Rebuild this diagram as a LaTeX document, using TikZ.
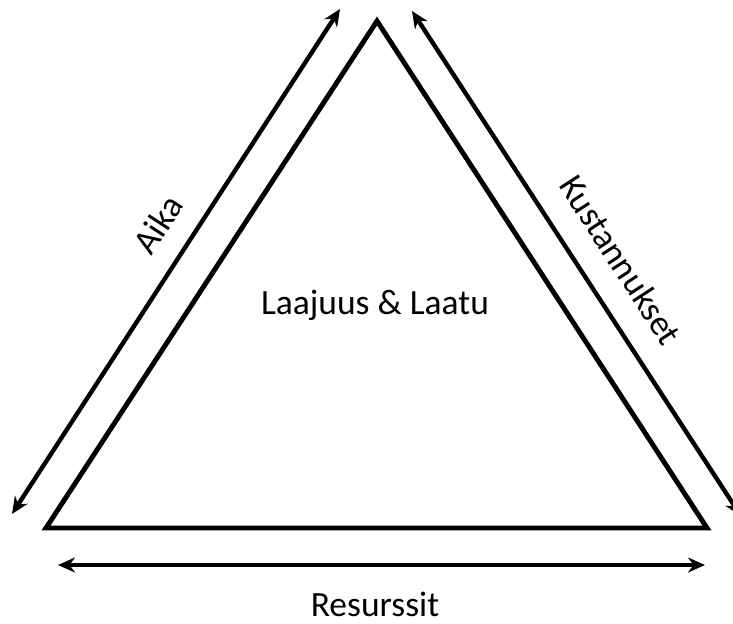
\documentclass[tikz,border=0pt]{standalone}
\usepackage{fontspec}
\setmainfont{Carlito}
\usetikzlibrary{calc,positioning,arrows.meta}

\tikzset{
  side/.style={line width=2.8pt, line join=miter},
  dimarrow/.style={line width=2.5pt, {Stealth[length=0.34cm,width=0.3cm]}-{Stealth[length=0.34cm,width=0.3cm]}},
  sidelabel/.style={font=\fontsize{20.2}{24}\selectfont, inner sep=0pt}
}

\begin{document}
\begin{tikzpicture}[x=0.02cm, y=-0.02cm]
  \useasboundingbox (0,0) rectangle (733,624);
  \clip (0,0) rectangle (733,624);

  % triangle corners
  \coordinate (apex) at (377,21);
  \coordinate (bl) at (46,528);
  \coordinate (br) at (707,528);
  \draw[side] (apex) -- (bl) -- (br) -- cycle;

  % arrow ends
  \coordinate (aika1) at (12,514);
  \coordinate (aika2) at (340,9);
  \coordinate (kust1) at (412,11);
  \coordinate (kust2) at (741,516);
  \coordinate (res1) at (58,565);
  \coordinate (res2) at (705,565);
  \draw[dimarrow] (aika1) -- (aika2);
  \draw[dimarrow] (kust1) -- (kust2);
  \draw[dimarrow] (res1) -- (res2);

  \node[sidelabel, rotate=57] (aika) at (158,224) {Aika};
  \node[sidelabel, rotate=-57] (kust) at (621,260) {Kustannukset};
  \node[sidelabel, anchor=base] (scope) at (375,315) {Laajuus \& Laatu};
  \node[sidelabel, anchor=base, text depth=0pt] (res) at (375,616) {Resurssit};
\end{tikzpicture}
\end{document}
